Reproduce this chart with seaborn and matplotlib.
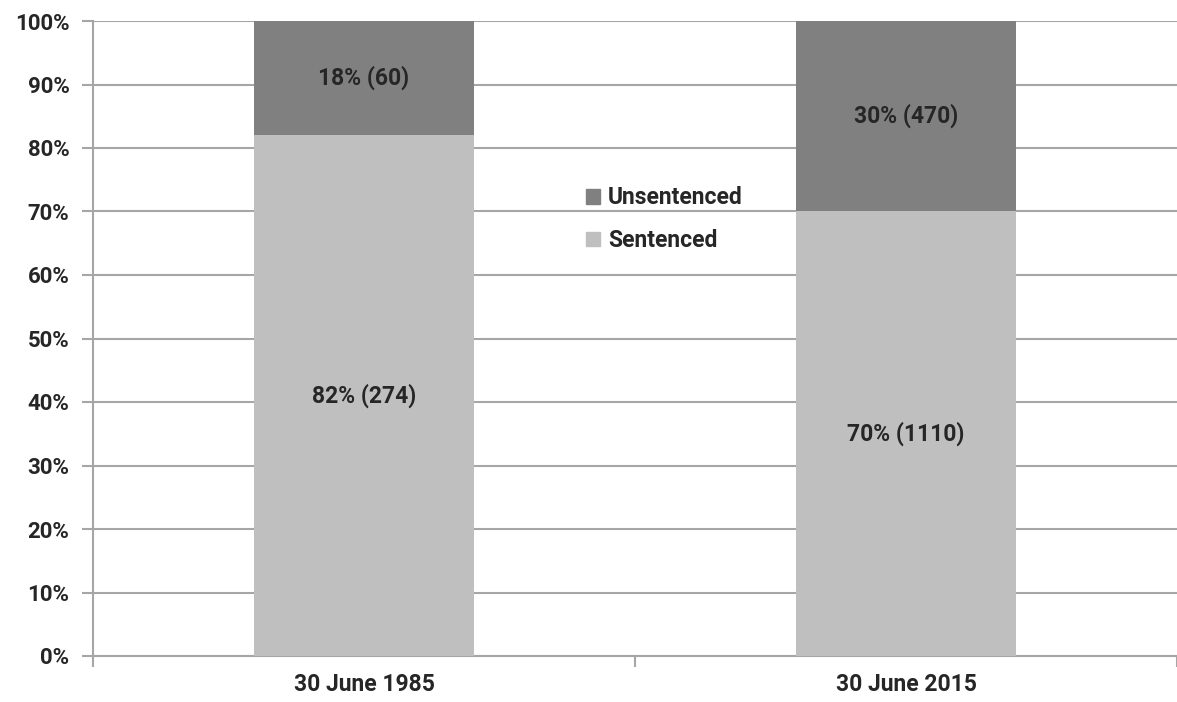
import pandas as pd
import numpy as np
import seaborn as sns
import matplotlib.pyplot as plt
from matplotlib.ticker import FixedLocator, PercentFormatter
from matplotlib.patches import Patch

# Data
dates = ['30 June 1985', '30 June 2015']
sentenced_pct = [82, 70]
unsentenced_pct = [18, 30]
sentenced_n = [274, 1110]
unsentenced_n = [60, 470]

df = pd.DataFrame({'date': dates, 'sentenced': sentenced_pct, 'unsentenced': unsentenced_pct})
df['total'] = df['sentenced'] + df['unsentenced']

sns.set_style('white')
plt.rcParams['font.family'] = ['Roboto', 'DejaVu Sans']
plt.rcParams['font.weight'] = 'bold'

dark = '#808080'
light = '#BFBFBF'
grid = '#A6A6A6'
fs = 16.5
fs_y = 16

fig = plt.figure(figsize=(11.77, 7.02), dpi=100)
ax = fig.add_axes([93/1177, 46/702, 1 - 93/1177, (656-21)/702])

# stacked: draw total in dark, sentenced on top in light
sns.barplot(data=df, x='date', y='total', color=dark, width=0.405, saturation=1,
            linewidth=0, ax=ax, zorder=3)
sns.barplot(data=df, x='date', y='sentenced', color=light, width=0.405, saturation=1,
            linewidth=0, ax=ax, zorder=3)

ax.set_xlim(-0.5, 1.5)
ax.set_ylim(0, 100)
ax.yaxis.set_major_locator(FixedLocator(np.arange(0, 101, 10)))
ax.yaxis.set_major_formatter(PercentFormatter(decimals=0))
ax.grid(axis='y', color=grid, linewidth=1.5, zorder=0)
ax.set_axisbelow(True)

for s in ['top', 'right']:
    ax.spines[s].set_visible(False)
for s in ['left', 'bottom']:
    ax.spines[s].set_color(grid)
    ax.spines[s].set_linewidth(1.5)

ax.tick_params(axis='y', left=True, length=8, width=1.5, color=grid, labelsize=fs_y, pad=9)
ax.tick_params(axis='x', which='major', bottom=False, length=0, labelsize=fs, pad=12)
ax.xaxis.set_minor_locator(FixedLocator([-0.5, 0.5, 1.5]))
ax.tick_params(axis='x', which='minor', bottom=True, length=8, width=1.5, color=grid)
for lab in ax.get_yticklabels() + ax.get_xticklabels():
    lab.set_fontweight('bold')
ax.set_xlabel('')
ax.set_ylabel('')

for i in range(len(dates)):
    ax.text(i, sentenced_pct[i] / 2, f'{sentenced_pct[i]}% ({sentenced_n[i]})',
            ha='center', va='center', fontsize=fs, fontweight='bold', zorder=5)
    ax.text(i, sentenced_pct[i] + unsentenced_pct[i] / 2, f'{unsentenced_pct[i]}% ({unsentenced_n[i]})',
            ha='center', va='center', fontsize=fs, fontweight='bold', zorder=5)

handles = [Patch(color=dark, label='Unsentenced'), Patch(color=light, label='Sentenced')]
leg = ax.legend(handles=handles, loc='center left', bbox_to_anchor=(0.436, 0.688),
                frameon=False, fontsize=fs, handlelength=0.6, handleheight=0.6,
                handletextpad=0.35, labelspacing=0.85)
for t in leg.get_texts():
    t.set_fontweight('bold')

fig.savefig('out.png', dpi=100)
